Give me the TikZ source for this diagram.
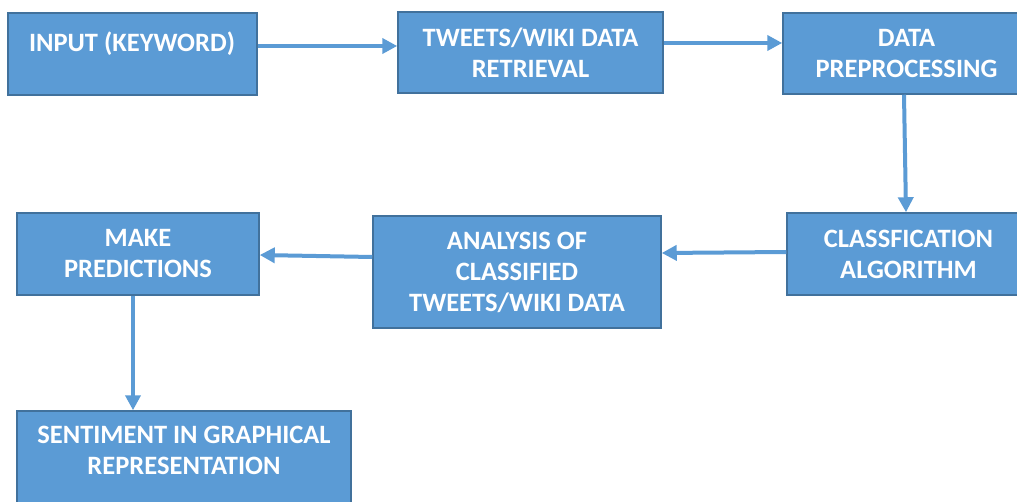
\documentclass[tikz,border=0pt]{standalone}
\usepackage{fontspec}
\setmainfont{Carlito}
\usetikzlibrary{arrows.meta}
\definecolor{boxfill}{HTML}{5B9BD5}
\definecolor{boxedge}{HTML}{41719C}
\tikzset{
  box/.style={rectangle, fill=boxfill, draw=boxedge, line width=1.5pt, inner sep=0pt,
    text=white, align=center, font=\fontsize{26.5}{31}\selectfont\bfseries},
  txt/.style={inner sep=0pt, text=white, align=center, font=\fontsize{26.5}{31}\selectfont\bfseries},
  conn/.style={draw=boxfill, line width=4pt, -{Triangle[length=15pt,width=15pt]}}
}
\begin{document}
\begin{tikzpicture}[x=1pt,y=-1pt]
\useasboundingbox (0,0) rectangle (1017,502);
\node[box, minimum width=249pt, minimum height=82pt] (in) at (132.5,54) {};
\node[txt] (inT) at (132,44) {INPUT (KEYWORD)};
\node[box, minimum width=265pt, minimum height=81pt] (ret) at (530.5,52.5) {TWEETS/WIKI DATA\\RETRIEVAL};
\node[box, minimum width=247pt, minimum height=81pt] (pre) at (906.5,53.5) {DATA\\PREPROCESSING};
\node[box, minimum width=243pt, minimum height=82pt] (cls) at (908.5,254) {CLASSFICATION\\ALGORITHM};
\node[box, minimum width=288pt, minimum height=112pt] (ana) at (517,272) {ANALYSIS OF\\CLASSIFIED\\TWEETS/WIKI DATA};
\node[box, minimum width=242pt, minimum height=82pt] (mak) at (138,254) {MAKE\\PREDICTIONS};
\node[box, minimum width=334pt, minimum height=104pt] (sen) at (184,463) {};
\node[txt] (senT) at (184,450.5) {SENTIMENT IN GRAPHICAL\\REPRESENTATION};
\draw[conn] ([yshift=8pt]in.east) -- ([yshift=6.5pt]ret.west);
\draw[conn] ([yshift=9.5pt]ret.east) -- ([yshift=10.5pt]pre.west);
\draw[conn] ([xshift=-2.5pt]pre.south) -- ([xshift=-2.5pt]cls.north);
\draw[conn] ([yshift=2pt]cls.west) -- ([yshift=19pt]ana.east);
\draw[conn] ([yshift=15pt]ana.west) -- ([yshift=-1pt]mak.east);
\draw[conn] ([xshift=-5pt]mak.south) -- ([xshift=-51pt]sen.north);
\end{tikzpicture}
\end{document}
